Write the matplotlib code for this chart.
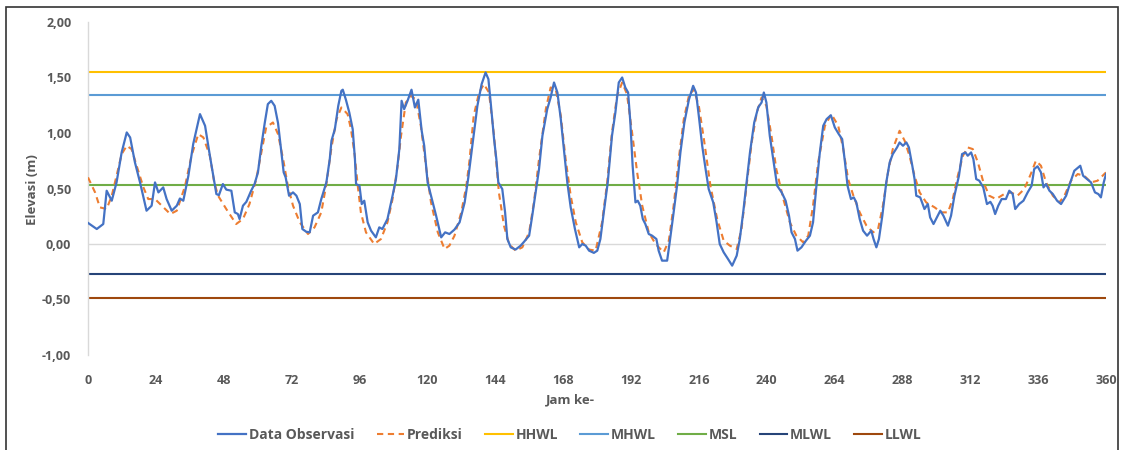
import matplotlib
matplotlib.use("Agg")
import matplotlib.pyplot as plt
from matplotlib.patches import Rectangle

plt.rcParams['font.family'] = ['Open Sans', 'DejaVu Sans']

# ---------------- data ----------------
obs_hours = [0, 3.1, 5.4, 6.6, 8.4, 10.1, 11.9, 13.7, 14.9, 16.6, 18.4, 20.7, 22.5, 23.7, 24.9,
             26.6, 27.8, 29.6, 31.4, 32.5, 33.7, 35.5, 37.2, 39.6, 41.4, 43.1, 44.4, 45.4, 46.3,
             47.7, 48.9, 50.7, 51.9, 53.0, 53.6, 54.8, 56.0, 57.7, 58.9, 60.1, 61.3, 62.5, 63.6,
             64.8, 66.0, 67.2, 68.4, 69.2, 69.9, 71.1, 72.5, 73.7, 74.9, 75.8, 77.2, 78.4, 79.6,
             81.3, 82.5, 84.3, 85.5, 86.1, 87.3, 88.5, 89.6, 90.1, 91.2, 92.4, 93.6, 94.4, 94.8,
             96.0, 96.8, 97.7, 98.9, 100.1, 101.8, 103.0, 104.1, 105.9, 107.7, 108.9, 110.1,
             110.9, 111.8, 113.0, 114.4, 115.6, 116.8, 118.0, 118.9, 120.1, 121.3, 123.1, 124.9,
             126.3, 127.8, 129.6, 131.4, 133.2, 134.5, 135.9, 137.7, 139.2, 140.6, 141.6, 142.4,
             143.6, 144.4, 145.1, 146.5, 147.5, 148.3, 149.5, 151.2, 153.0, 154.2, 156.0, 157.1,
             158.3, 159.5, 160.7, 162.4, 163.6, 164.8, 166.0, 167.2, 168.4, 169.5, 170.7, 172.2,
             173.7, 174.8, 176.0, 177.2, 178.9, 180.1, 181.2, 182.4, 183.8, 185.3, 186.5, 187.7,
             188.9, 190.0, 191.0, 191.8, 192.6, 193.6, 194.4, 195.3, 196.2, 197.1, 198.3, 199.5,
             201.0, 201.8, 203.0, 204.8, 205.7, 207.1, 208.3, 209.5, 210.9, 212.5, 214.0, 215.0,
             216.0, 217.2, 218.4, 219.5, 221.1, 222.3, 223.4, 224.8, 226.2, 227.8, 229.4, 230.5,
             231.7, 232.9, 234.1, 235.6, 237.0, 238.2, 239.0, 239.9, 241.1, 242.3, 243.7, 245.3,
             246.7, 247.9, 248.8, 250.0, 250.9, 252.3, 253.9, 255.3, 256.4, 257.6, 258.8, 260.0,
             261.2, 262.7, 264.1, 265.5, 266.7, 267.7, 268.6, 269.8, 270.8, 271.7, 272.9, 274.1,
             275.5, 277.0, 277.8, 278.8, 279.7, 280.9, 282.3, 283.5, 284.6, 286.1, 287.0, 288.2,
             289.4, 290.3, 291.5, 292.3, 292.9, 294.3, 295.8, 297.0, 297.8, 299.0, 299.9, 301.4,
             302.5, 304.1, 305.2, 306.4, 308.0, 309.1, 310.3, 311.1, 312.3, 313.1, 314.1, 315.2,
             316.6, 317.9, 319.1, 319.9, 320.8, 321.9, 323.1, 324.6, 325.8, 327.0, 327.9, 329.3,
             330.8, 332.3, 333.7, 334.6, 335.8, 337.0, 337.9, 338.8, 340.0, 341.2, 342.7, 344.1,
             345.9, 347.4, 348.8, 350.2, 350.9, 351.9, 353.3, 354.7, 356.1, 357.3, 358.2, 359.2,
             360.0]
obs_values = [0.19, 0.135, 0.18, 0.48, 0.39, 0.555, 0.825, 1.005, 0.96, 0.735, 0.555, 0.30, 0.345,
              0.555, 0.465, 0.51, 0.405, 0.30, 0.345, 0.41, 0.39, 0.615, 0.90, 1.17, 1.065, 0.795,
              0.60, 0.45, 0.44, 0.54, 0.49, 0.48, 0.285, 0.27, 0.225, 0.345, 0.38, 0.48, 0.54,
              0.645, 0.885, 1.09, 1.26, 1.29, 1.245, 1.09, 0.825, 0.645, 0.60, 0.435, 0.465, 0.435,
              0.36, 0.135, 0.11, 0.105, 0.255, 0.285, 0.405, 0.555, 0.765, 0.93, 1.035, 1.245,
              1.38, 1.39, 1.30, 1.185, 1.035, 0.765, 0.54, 0.525, 0.36, 0.39, 0.195, 0.12, 0.06,
              0.15, 0.135, 0.225, 0.435, 0.585, 0.855, 1.29, 1.215, 1.29, 1.39, 1.23, 1.30, 1.02,
              0.885, 0.555, 0.435, 0.255, 0.06, 0.105, 0.09, 0.13, 0.195, 0.375, 0.60, 0.885,
              1.245, 1.44, 1.545, 1.485, 1.275, 0.945, 0.765, 0.555, 0.495, 0.285, 0.045, -0.03,
              -0.05, -0.015, 0.02, 0.075, 0.255, 0.465, 0.675, 0.975, 1.215, 1.32, 1.455, 1.365,
              1.125, 0.825, 0.555, 0.33, 0.135, -0.03, 0.0, -0.015, -0.06, -0.08, -0.06, 0.045,
              0.285, 0.555, 0.975, 1.185, 1.455, 1.50, 1.41, 1.365, 1.095, 0.705, 0.375, 0.39,
              0.345, 0.225, 0.18, 0.09, 0.075, 0.045, -0.06, -0.15, -0.15, 0.015, 0.285, 0.525,
              0.825, 1.095, 1.30, 1.425, 1.365, 1.155, 0.885, 0.675, 0.495, 0.375, 0.195, 0.0,
              -0.075, -0.13, -0.195, -0.105, 0.045, 0.285, 0.555, 0.825, 1.095, 1.23, 1.275, 1.365,
              1.275, 0.975, 0.765, 0.525, 0.465, 0.39, 0.255, 0.105, 0.045, -0.06, -0.03, 0.03,
              0.075, 0.195, 0.525, 0.825, 1.065, 1.125, 1.16, 1.05, 0.99, 0.945, 0.735, 0.525,
              0.405, 0.42, 0.375, 0.225, 0.12, 0.075, 0.12, 0.045, -0.03, 0.045, 0.255, 0.555,
              0.735, 0.81, 0.87, 0.915, 0.885, 0.915, 0.87, 0.705, 0.585, 0.435, 0.42, 0.315, 0.36,
              0.24, 0.18, 0.225, 0.30, 0.255, 0.165, 0.255, 0.435, 0.615, 0.81, 0.825, 0.795,
              0.825, 0.765, 0.585, 0.57, 0.51, 0.36, 0.38, 0.345, 0.27, 0.345, 0.405, 0.405, 0.48,
              0.45, 0.315, 0.36, 0.39, 0.465, 0.525, 0.675, 0.70, 0.645, 0.51, 0.54, 0.48, 0.45,
              0.39, 0.36, 0.435, 0.555, 0.66, 0.69, 0.705, 0.615, 0.585, 0.555, 0.465, 0.45, 0.42,
              0.555, 0.63]

pred_hours = [0, 2.5, 4.2, 6.6, 8.4, 10.1, 11.9, 13.7, 15.4, 17.2, 19.6, 21.3, 23.7, 26.1, 29.1,
              31.4, 34.3, 36.6, 39.0, 40.8, 43.1, 44.6, 46.0, 48.9, 52.4, 54.8, 57.1, 59.5, 61.3,
              63.0, 65.4, 67.2, 69.0, 70.7, 72.5, 74.9, 77.8, 80.1, 82.5, 84.3, 86.1, 87.9, 89.6,
              91.8, 93.0, 94.2, 95.4, 96.5, 98.3, 101.2, 103.6, 105.9, 107.7, 109.5, 110.7, 112.4,
              114.2, 116.0, 117.7, 119.5, 121.3, 123.7, 126.1, 127.8, 129.6, 132.0, 133.8, 134.9,
              136.4, 138.3, 140.0, 141.8, 143.6, 145.3, 147.1, 148.9, 151.2, 153.6, 156.0, 157.7,
              159.5, 161.9, 163.6, 165.4, 167.2, 168.9, 170.7, 172.5, 174.8, 177.2, 179.5, 181.8,
              183.6, 185.3, 187.1, 188.9, 190.6, 192.4, 194.2, 196.0, 198.3, 200.7, 203.6, 205.4,
              207.1, 208.9, 210.7, 212.5, 214.2, 216.0, 217.8, 220.1, 222.5, 224.8, 227.0, 229.4,
              231.1, 232.9, 234.7, 236.5, 238.2, 239.9, 241.7, 243.4, 245.9, 248.2, 250.5, 252.9,
              254.7, 256.4, 258.2, 260.6, 262.9, 265.3, 267.1, 268.8, 270.6, 272.9, 275.3, 277.6,
              279.4, 281.1, 282.9, 284.6, 287.0, 288.8, 290.5, 292.3, 294.1, 296.4, 299.4, 301.7,
              304.1, 305.8, 307.6, 309.4, 311.1, 312.9, 314.7, 316.6, 318.7, 321.1, 324.0, 326.4,
              328.7, 331.1, 333.4, 335.2, 337.0, 338.8, 341.2, 343.5, 345.3, 347.6, 350.0, 352.3,
              354.7, 357.0, 360.0]
pred_values = [0.60, 0.465, 0.33, 0.315, 0.435, 0.615, 0.81, 0.885, 0.855, 0.705, 0.51, 0.405,
               0.405, 0.345, 0.27, 0.30, 0.52, 0.795, 0.99, 0.96, 0.795, 0.56, 0.435, 0.315, 0.18,
               0.225, 0.36, 0.585, 0.825, 1.05, 1.095, 0.99, 0.765, 0.52, 0.345, 0.195, 0.09, 0.15,
               0.285, 0.54, 0.87, 1.125, 1.23, 1.17, 1.035, 0.825, 0.525, 0.285, 0.105, 0.0, 0.045,
               0.195, 0.405, 0.705, 0.975, 1.275, 1.335, 1.30, 1.065, 0.705, 0.375, 0.105, -0.045,
               -0.015, 0.075, 0.285, 0.525, 0.75, 1.155, 1.365, 1.44, 1.365, 0.975, 0.465, 0.165,
               0.0, -0.06, -0.03, 0.105, 0.375, 0.765, 1.215, 1.41, 1.395, 1.155, 0.765, 0.435,
               0.195, 0.015, -0.05, -0.06, 0.195, 0.555, 1.005, 1.335, 1.455, 1.35, 1.005, 0.645,
               0.345, 0.105, 0.0, -0.075, 0.03, 0.345, 0.765, 1.125, 1.335, 1.395, 1.245, 0.945,
               0.525, 0.225, 0.03, -0.015, -0.045, 0.135, 0.525, 0.915, 1.185, 1.32, 1.245, 0.975,
               0.675, 0.405, 0.195, 0.075, 0.015, 0.075, 0.345, 0.735, 1.065, 1.17, 1.065, 0.855,
               0.585, 0.44, 0.285, 0.165, 0.105, 0.135, 0.345, 0.645, 0.855, 1.02, 0.93, 0.795,
               0.615, 0.465, 0.375, 0.33, 0.285, 0.285, 0.405, 0.615, 0.795, 0.87, 0.855, 0.735,
               0.56, 0.435, 0.405, 0.45, 0.465, 0.435, 0.495, 0.63, 0.75, 0.705, 0.555, 0.435,
               0.375, 0.435, 0.57, 0.63, 0.615, 0.555, 0.57, 0.645]

level_names = ["HHWL", "MHWL", "MSL", "MLWL", "LLWL"]
level_values = [1.55, 1.345, 0.53, -0.27, -0.485]
level_colors = ["#FFC000", "#5B9BD5", "#70AD47", "#264478", "#9E480E"]

x_ticks = [0, 24, 48, 72, 96, 120, 144, 168, 192, 216, 240, 264, 288, 312, 336, 360]
y_ticks = [-1.0, -0.5, 0.0, 0.5, 1.0, 1.5, 2.0]
y_tick_labels = ["-1,00", "-0,50", "0,00", "0,50", "1,00", "1,50", "2,00"]

# ---------------- figure ----------------
fig = plt.figure(figsize=(11.24, 4.5), dpi=100)
ax = fig.add_axes([88 / 1124, 1 - 355 / 450, (1106 - 88) / 1124, (355 - 22) / 450])

txt = "#595959"
ax.axhline(0, color="#D9D9D9", lw=1.0, zorder=1)

ax.plot(obs_hours, obs_values, color="#4472C4", lw=1.6, label="Data Observasi", zorder=4)
ax.plot(pred_hours, pred_values, color="#ED7D31", lw=1.5, ls=(0, (3, 2.2)), label="Prediksi", zorder=3)
for name, val, col in zip(level_names, level_values, level_colors):
    ax.plot([x_ticks[0], x_ticks[-1]], [val, val], color=col, lw=1.5, label=name, zorder=2)

ax.set_xlim(0, 360)
ax.set_ylim(-1.0, 2.0)
ax.set_xticks(x_ticks)
ax.set_xticklabels([str(t) for t in x_ticks])
ax.set_yticks(y_ticks)
ax.set_yticklabels(y_tick_labels)
ax.tick_params(length=0, labelsize=9, colors=txt, pad=14)
ax.tick_params(axis="y", pad=12)
for lab in ax.get_xticklabels() + ax.get_yticklabels():
    lab.set_fontweight("bold")

for s in ["top", "right", "bottom"]:
    ax.spines[s].set_visible(False)
ax.spines["left"].set_color("#D9D9D9")
ax.spines["left"].set_linewidth(1.0)

fig.text(570 / 1124, 1 - 400 / 450, "Jam ke-", ha="center", va="center",
         fontsize=9.5, fontweight="bold", color=txt)
fig.text(33 / 1124, 1 - 190 / 450, "Elevasi (m)", ha="center", va="center", rotation=90,
         fontsize=9.5, fontweight="bold", color=txt)

leg = fig.legend(loc="center", bbox_to_anchor=(570 / 1124, 1 - 435 / 450), ncol=7,
                 frameon=False, fontsize=10, handlelength=2.0, handletextpad=0.2,
                 columnspacing=1.6)
for t in leg.get_texts():
    t.set_color(txt)
    t.set_fontweight("bold")

# outer frame of the cropped screenshot
fig.patches.append(Rectangle((6 / 1124, -0.05), (1118 - 6) / 1124, 1.05 - 7 / 450,
                             transform=fig.transFigure, fill=False, edgecolor="#333333",
                             lw=1.2, zorder=0))

fig.savefig("out.png", dpi=100)
